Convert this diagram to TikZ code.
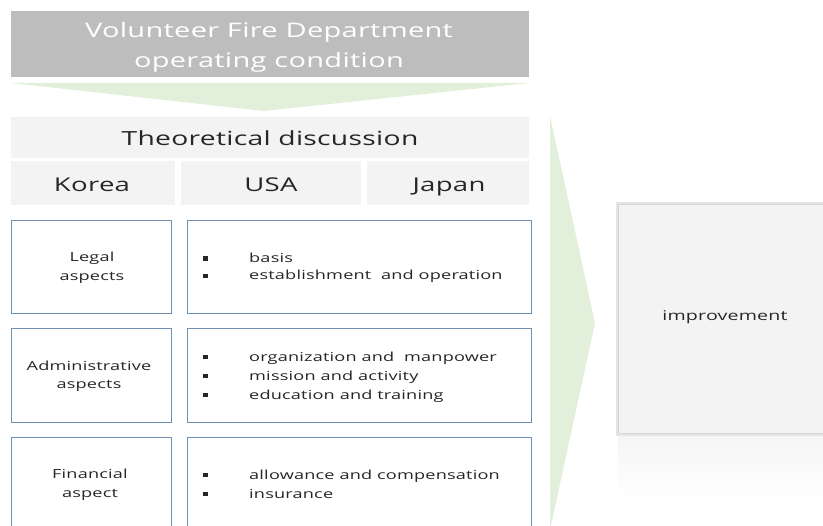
\documentclass[tikz,border=0pt]{standalone}
\usepackage{fontspec}
\setmainfont{Open Sans}[FakeStretch=1.45, LetterSpace=1.5]
\definecolor{titlegray}{HTML}{BDBDBD}
\definecolor{lightbox}{HTML}{F2F3F2}
\definecolor{greenarrow}{HTML}{E2EFDA}
\definecolor{bluegray}{HTML}{6F8FB0}
\definecolor{darktext}{HTML}{262626}
\tikzset{
  hdr/.style={text=darktext, font=\fontsize{19}{22}\selectfont, inner sep=0pt, anchor=base},
  rowbox/.style={draw=bluegray, line width=0.9pt, fill=white},
  lbl/.style={text=darktext, font=\fontsize{12.5}{18.5}\selectfont, align=center, inner sep=0pt},
  items/.style={text=darktext, align=left, inner sep=0pt, anchor=west},
}
\newcommand{\blt}{\makebox[46pt][l]{\rule[1.8pt]{4.5pt}{4.5pt}}}
\begin{document}
\begin{tikzpicture}[x=1pt,y=-1pt]
\useasboundingbox (0,0) rectangle (823,526);
\clip (0,0) rectangle (823,526);
% title
\fill[titlegray] (11,11) rectangle (529,77);
\node[text=white, font=\fontsize{20}{30}\selectfont, align=center] (title) at (269,47) {Volunteer Fire Department\\operating condition};
% down arrow
\fill[greenarrow] (11,83) -- (529,83) -- (264,111) -- cycle;
% header
\fill[lightbox] (11,117) rectangle (529,158);
\node[hdr, font=\fontsize{19.5}{22}\selectfont] (theo) at (270,146) {Theoretical discussion};
\fill[lightbox] (11,161) rectangle (175,205);
\fill[lightbox] (181,161) rectangle (361,205);
\fill[lightbox] (367,161) rectangle (529,205);
\node[hdr] (korea) at (92,192) {Korea};
\node[hdr] (usa) at (271,192) {USA};
\node[hdr] (japan) at (449,192) {Japan};
% rows
\draw[rowbox] (11,220) rectangle (171,313);
\draw[rowbox] (187,220) rectangle (531,313);
\draw[rowbox] (11,328) rectangle (171,422);
\draw[rowbox] (187,328) rectangle (531,422);
\draw[rowbox] (11,437) rectangle (171,540);
\draw[rowbox] (187,437) rectangle (531,540);
\node[lbl] (legal) at (92,268) {Legal\\aspects};
\node[lbl] (admin) at (89,376.5) {Administrative\\aspects};
\node[lbl] (fin) at (90,485) {Financial\\aspect};
\node[items, font=\fontsize{12.5}{17.5}\selectfont] (legalitems) at (203,268) {\blt basis\\\blt establishment\ \ and operation};
\node[items, font=\fontsize{12.5}{19}\selectfont] (adminitems) at (203,377) {\blt organization and\ \ manpower\\\blt mission and activity\\\blt education and training};
\node[items, font=\fontsize{12.5}{19}\selectfont] (finitems) at (203,484) {\blt allowance and compensation\\\blt insurance};
% right arrow
\fill[greenarrow] (550,116) -- (595,323) -- (550,530) -- cycle;
% improvement box with shadow and reflection
\shade[top color=black!4, bottom color=white] (618,434) rectangle (823,500);
\fill[black!10] (616,202) rectangle (823,436);
\fill[lightbox] (619,205) rectangle (823,433);
\draw[black!16, line width=0.8pt] (823,204.5) -- (618.5,204.5) -- (618.5,433) -- (823,433);
\node[text=darktext, font=\fontsize{13.5}{15}\selectfont] (impr) at (725,317) {improvement};
\end{tikzpicture}
\end{document}
